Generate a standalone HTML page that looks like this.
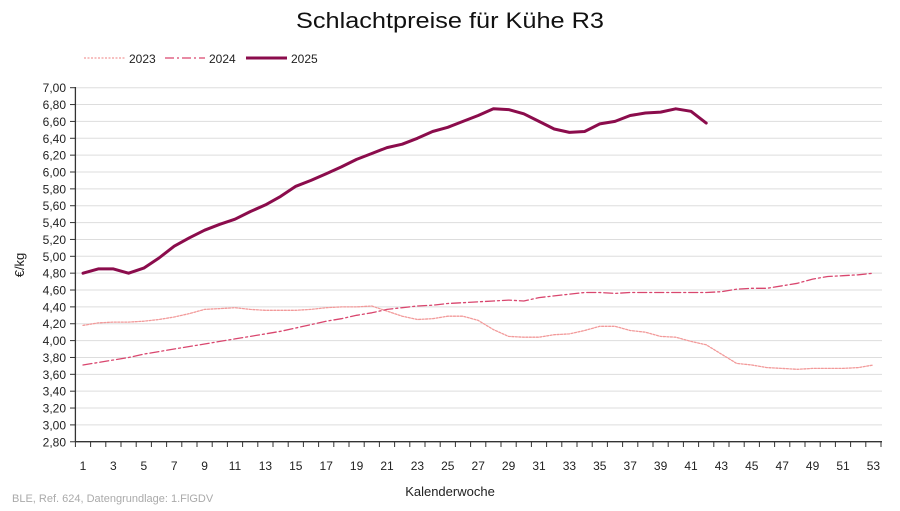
<!DOCTYPE html>
<html><head><meta charset="utf-8"><style>
body{margin:0;background:#fff;width:900px;height:506px;overflow:hidden;font-family:"Liberation Sans",sans-serif}
</style></head><body>
<svg id="s" width="900" height="506" xmlns="http://www.w3.org/2000/svg" font-family="Liberation Sans, sans-serif">
<text x="450" y="28" text-anchor="middle" font-size="22" fill="#111" textLength="308" lengthAdjust="spacingAndGlyphs">Schlachtpreise für Kühe R3</text>
<line x1="84" y1="58" x2="125" y2="58" stroke="#f29a9a" stroke-width="1.2" stroke-dasharray="2,1.5"/>
<text x="129" y="63" font-size="12" fill="#222">2023</text>
<line x1="165" y1="58" x2="205" y2="58" stroke="#d9466e" stroke-width="1.2" stroke-dasharray="9,3,2,3"/>
<text x="209" y="63" font-size="12" fill="#222">2024</text>
<line x1="246" y1="58" x2="287" y2="58" stroke="#8b0c4c" stroke-width="3"/>
<text x="291" y="63" font-size="12" fill="#222">2025</text>
<g id="g"></g>
<text x="12" y="502" font-size="11" fill="#aaa">BLE, Ref. 624, Datengrundlage: 1.FlGDV</text>
<text x="450" y="496" text-anchor="middle" font-size="13" fill="#222">Kalenderwoche</text>
<text transform="translate(24,265) rotate(-90)" text-anchor="middle" font-size="13" fill="#222">€/kg</text>
</svg>
<script>
var g=document.getElementById('g'),h='';
var X0=75.4,W=15.2,Y=function(v){return 87.7+(7-v)*84.3;};
for(var v=2.8;v<=7.001;v+=0.2){var y=Y(v);
 if(v>2.81)h+='<line x1="76" y1="'+y+'" x2="882" y2="'+y+'" stroke="#ddd" stroke-width="1"/>';
 h+='<line x1="70" y1="'+y+'" x2="75.4" y2="'+y+'" stroke="#333"/>';
 h+='<text x="66" y="'+(y+4.5)+'" text-anchor="end" font-size="12" fill="#222">'+v.toFixed(2).replace('.',',')+'</text>';}
h+='<line x1="75.4" y1="87" x2="75.4" y2="442" stroke="#333" stroke-width="1.3"/>';
h+='<line x1="75.4" y1="441.7" x2="882" y2="441.7" stroke="#333" stroke-width="1.3"/>';
for(var i=0;i<=53;i++){var x=X0+i*W;h+='<line x1="'+x+'" y1="441.7" x2="'+x+'" y2="447" stroke="#333"/>';}
for(var i=1;i<=53;i+=2){h+='<text x="'+(X0+(i-0.5)*W)+'" y="470" text-anchor="middle" font-size="12" fill="#222">'+i+'</text>';}
function pl(d,st){var p=d.map(function(v,i){return (X0+(i+0.5)*W).toFixed(1)+','+Y(v).toFixed(1)}).join(' ');
 h+='<polyline points="'+p+'" fill="none" stroke-linejoin="round" stroke-linecap="round" '+st+'/>';}
pl([4.18,4.21,4.22,4.22,4.23,4.25,4.28,4.32,4.37,4.38,4.39,4.37,4.36,4.36,4.36,4.37,4.39,4.40,4.40,4.41,4.35,4.29,4.25,4.26,4.29,4.29,4.24,4.13,4.05,4.04,4.04,4.07,4.08,4.12,4.17,4.17,4.12,4.10,4.05,4.04,3.99,3.95,3.84,3.73,3.71,3.68,3.67,3.66,3.67,3.67,3.67,3.68,3.71],'stroke="#f29a9a" stroke-width="1.3" stroke-dasharray="2,1.5"');
pl([3.71,3.74,3.77,3.80,3.84,3.87,3.90,3.93,3.96,3.99,4.02,4.05,4.08,4.11,4.15,4.19,4.23,4.26,4.30,4.33,4.37,4.39,4.41,4.42,4.44,4.45,4.46,4.47,4.48,4.47,4.51,4.53,4.55,4.57,4.57,4.56,4.57,4.57,4.57,4.57,4.57,4.57,4.58,4.61,4.62,4.62,4.65,4.68,4.73,4.76,4.77,4.78,4.80],'stroke="#d9466e" stroke-width="1.3" stroke-dasharray="9,3,2,3"');
pl([4.80,4.85,4.85,4.80,4.86,4.98,5.12,5.22,5.31,5.38,5.44,5.53,5.61,5.71,5.83,5.90,5.98,6.06,6.15,6.22,6.29,6.33,6.40,6.48,6.53,6.60,6.67,6.75,6.74,6.69,6.60,6.51,6.47,6.48,6.57,6.60,6.67,6.70,6.71,6.75,6.72,6.58],'stroke="#8b0c4c" stroke-width="3"');
g.innerHTML=h;
</script>
</body></html>
